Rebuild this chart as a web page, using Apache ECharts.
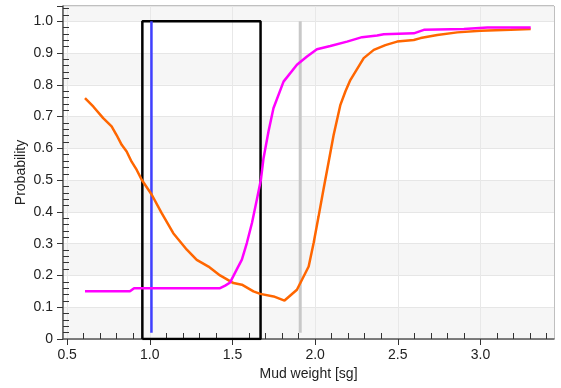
<!DOCTYPE html>
<html><head><meta charset="utf-8">
<script src="https://cdn.jsdelivr.net/npm/echarts@6/dist/echarts.min.js"></script>
<style>html,body{margin:0;padding:0;background:#fff}#c{width:561px;height:388px}</style>
</head><body><div id="c"></div>
<script>
// Orange curve
const orangeX = [0.608,0.659,0.718,0.769,0.799,0.830,0.860,0.890,0.921,0.951,1.012,1.072,1.142,1.224,1.284,1.355,1.425,1.506,1.557,1.627,1.668,1.749,1.815,1.890,1.961,1.991,2.021,2.050,2.082,2.112,2.153,2.183,2.213,2.294,2.355,2.425,2.496,2.597,2.638,2.739,2.860,3.001,3.183,3.304];
const orangeY = [0.758,0.731,0.695,0.669,0.642,0.611,0.590,0.558,0.532,0.501,0.454,0.396,0.333,0.281,0.249,0.228,0.200,0.176,0.171,0.150,0.142,0.134,0.121,0.155,0.228,0.302,0.386,0.469,0.558,0.642,0.737,0.779,0.815,0.884,0.910,0.925,0.936,0.941,0.947,0.957,0.965,0.970,0.973,0.976];
// Magenta curve
const magentaX = [0.608,0.880,0.905,1.425,1.456,1.486,1.527,1.557,1.587,1.618,1.648,1.672,1.688,1.718,1.748,1.809,1.890,1.951,2.011,2.092,2.193,2.284,2.375,2.415,2.597,2.658,2.900,3.042,3.304];
const magentaY = [0.150,0.150,0.160,0.160,0.168,0.178,0.220,0.250,0.302,0.365,0.440,0.501,0.569,0.653,0.726,0.810,0.863,0.889,0.912,0.922,0.936,0.950,0.955,0.959,0.962,0.973,0.976,0.980,0.980];
// Window box (x range) and reference lines
const boxX = [0.955, 1.67];
const boxY = [0, 1.0];
const blueLine = {x: 1.01, y0: 0.02, y1: 1.0};
const greyLine = {x: 1.91, y0: 0.02, y1: 1.0};
// Tick labels
const xTicks = [0.5, 1.0, 1.5, 2.0, 2.5, 3.0];
const xMinorTicks = [0.6,0.7,0.8,0.9,1.1,1.2,1.3,1.4,1.6,1.7,1.8,1.9,2.1,2.2,2.3,2.4,2.6,2.7,2.8,2.9,3.1,3.2,3.3,3.4];
const yTicks = ['0','0.1','0.2','0.3','0.4','0.5','0.6','0.7','0.8','0.9','1.0'];

const zip = (a,b) => a.map((v,i)=>[v,b[i]]);
const boxData = [[boxX[0],boxY[0]],[boxX[0],boxY[1]],[boxX[1],boxY[1]],[boxX[1],boxY[0]],[boxX[0],boxY[0]]];

const chart = echarts.init(document.getElementById('c'), null, {renderer:'canvas'});
const font = {fontFamily:'Liberation Sans, Arial, sans-serif', fontSize:14, color:'#222'};
const XMIN = 0.475, XMAX = 3.445;
chart.setOption({
  animation:false,
  grid:{left:63,right:7,top:6,bottom:49,show:true,borderColor:'#808080',borderWidth:1,backgroundColor:'transparent'},
  xAxis:[{type:'value',min:XMIN,max:XMAX,position:'bottom',
    name:'Mud weight [sg]',nameLocation:'middle',nameGap:28,nameMoveOverlap:false,nameTextStyle:font,
    axisLine:{lineStyle:{color:'#555',width:1.5}},
    axisTick:{length:6,customValues:xTicks,lineStyle:{color:'#333'}},
    axisLabel:Object.assign({margin:9,customValues:xTicks,formatter:v=>v.toFixed(1)},font),
    splitLine:{show:true,lineStyle:{color:'#e8e8e8'}}},
   {type:'value',min:XMIN,max:XMAX,position:'bottom',offset:0,
    axisLine:{show:false},
    axisTick:{show:true,inside:true,length:6,customValues:xMinorTicks,lineStyle:{color:'#333'}},
    axisLabel:{show:false},splitLine:{show:false}}],
  yAxis:{type:'value',min:0,max:1.048,interval:0.1,
    name:'Probability',nameLocation:'middle',nameGap:35,nameMoveOverlap:false,nameTextStyle:font,
    axisLine:{show:true,lineStyle:{color:'#555',width:1.5}},
    axisTick:{show:true,length:6,lineStyle:{color:'#333'}},
    minorTick:{show:true,splitNumber:5,length:-6,lineStyle:{color:'#333'}},
    axisLabel:Object.assign({margin:10,showMaxLabel:false,
      formatter:v=>{const s=v===0?'0':v.toFixed(1);return yTicks.includes(s)?s:'';}},font),
    splitLine:{show:true,lineStyle:{color:'#e6e6e6'}},
    splitArea:{show:true,areaStyle:{color:['#f6f6f6','#ffffff']}}},
  series:[
    {type:'line',data:[[greyLine.x,greyLine.y0],[greyLine.x,greyLine.y1]],symbol:'none',lineStyle:{color:'#c8c8c8',width:3},z:2},
    {type:'line',data:boxData,symbol:'none',lineStyle:{color:'#000',width:2.5},z:3},
    {type:'line',data:[[blueLine.x,blueLine.y0],[blueLine.x,blueLine.y1]],symbol:'none',lineStyle:{color:'#4040ff',width:2.5},z:3},
    {type:'line',data:zip(orangeX,orangeY),symbol:'none',lineStyle:{color:'#ff6600',width:2.5},z:4},
    {type:'line',data:zip(magentaX,magentaY),symbol:'none',lineStyle:{color:'#ff00ff',width:2.5},z:5}
  ]
});
</script></body></html>
